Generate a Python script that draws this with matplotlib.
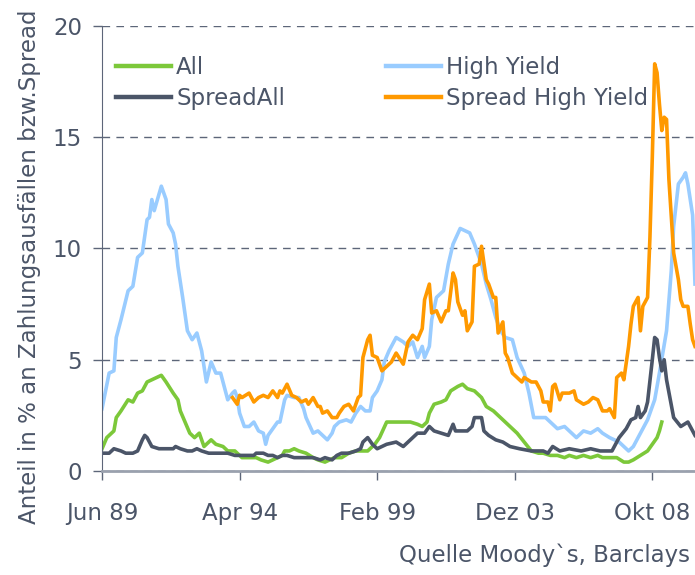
#!/usr/bin/env python
# Ausfallraten und Spreads, Moody's / Barclays, Jun 89 - 2010
import matplotlib
matplotlib.use('Agg')
import matplotlib.pyplot as plt

# months since Jun 1989, value in %
hy_m = [0, 3, 5, 6, 8, 11, 13, 15, 17, 19, 20, 21, 22, 25, 27, 28, 30, 31, 32,
        34, 36, 38, 40, 42, 44, 46, 48, 50, 51, 53, 55, 56, 57, 58, 60, 62, 64,
        66, 68, 69, 70, 72, 74, 75, 77, 78, 81, 83, 85, 86, 89, 91, 93, 95, 97,
        98, 100, 103, 105, 107, 109, 111, 113, 114, 116, 118, 119, 121, 124,
        127, 129, 131, 133, 135, 136, 138, 139, 141, 144, 146, 148, 151, 153,
        155, 157, 160, 162, 164, 166, 168, 170, 173, 175, 178, 180, 182, 185,
        187, 189, 192, 195, 197, 200, 203, 206, 209, 211, 214, 218, 220, 222,
        224, 226, 230, 233, 235, 238, 240, 241, 243, 245, 246, 247, 249, 250]
hy_v = [2.8, 4.4, 4.5, 6.0, 6.8, 8.1, 8.3, 9.6, 9.8, 11.3, 11.4, 12.2, 11.7,
        12.8, 12.2, 11.1, 10.7, 10.2, 9.2, 7.8, 6.3, 5.9, 6.2, 5.4, 4.0, 4.9,
        4.4, 4.4, 4.0, 3.2, 3.5, 3.6, 3.3, 2.6, 2.0, 2.0, 2.2, 1.8, 1.7, 1.2,
        1.6, 1.9, 2.2, 2.2, 3.2, 3.4, 3.3, 3.3, 2.8, 2.4, 1.7, 1.8, 1.6, 1.4,
        1.7, 2.0, 2.2, 2.3, 2.2, 2.6, 2.9, 2.7, 2.7, 3.3, 3.6, 4.1, 4.9, 5.4,
        6.0, 5.8, 5.6, 5.8, 5.1, 5.6, 5.1, 5.6, 6.8, 7.8, 8.1, 9.3, 10.2, 10.9,
        10.8, 10.7, 10.2, 9.3, 8.4, 7.7, 6.9, 6.3, 6.0, 5.9, 5.1, 4.4, 3.5, 2.4,
        2.4, 2.4, 2.2, 1.9, 2.0, 1.8, 1.5, 1.8, 1.7, 1.9, 1.7, 1.5, 1.3, 1.1,
        0.9, 1.1, 1.5, 2.3, 3.2, 4.4, 6.3, 9.0, 11.0, 12.9, 13.2, 13.4, 12.9,
        11.5, 8.4]

all_m = [0, 2, 5, 6, 8, 11, 13, 15, 17, 19, 21, 23, 25, 27, 30, 32, 33, 35, 37,
         39, 41, 43, 46, 48, 51, 53, 56, 59, 62, 65, 67, 70, 72, 74, 76, 77, 79,
         81, 83, 86, 89, 91, 94, 96, 98, 101, 104, 107, 110, 112, 115, 117, 120,
         122, 124, 127, 130, 133, 135, 137, 138, 140, 143, 145, 147, 150, 152,
         154, 157, 160, 162, 165, 168, 171, 172, 175, 178, 181, 184, 186, 189,
         192, 195, 197, 200, 203, 206, 209, 211, 214, 217, 220, 222, 224, 227,
         230, 232, 234, 235, 236]
all_v = [1.0, 1.5, 1.8, 2.4, 2.7, 3.2, 3.1, 3.5, 3.6, 4.0, 4.1, 4.2, 4.3, 4.0,
         3.5, 3.2, 2.7, 2.2, 1.7, 1.5, 1.7, 1.1, 1.4, 1.2, 1.1, 0.9, 0.9, 0.6,
         0.6, 0.6, 0.5, 0.4, 0.5, 0.6, 0.7, 0.9, 0.9, 1.0, 0.9, 0.8, 0.6, 0.5,
         0.4, 0.5, 0.6, 0.6, 0.8, 0.9, 0.9, 0.9, 1.2, 1.5, 2.2, 2.2, 2.2, 2.2,
         2.2, 2.1, 2.0, 2.2, 2.6, 3.0, 3.1, 3.2, 3.6, 3.8, 3.9, 3.7, 3.6, 3.3,
         2.9, 2.7, 2.4, 2.1, 2.0, 1.7, 1.3, 0.9, 0.8, 0.8, 0.7, 0.7, 0.6, 0.7,
         0.6, 0.7, 0.6, 0.7, 0.6, 0.6, 0.6, 0.4, 0.4, 0.5, 0.7, 0.9, 1.2, 1.5,
         1.8, 2.2]

sall_m = [0, 3, 5, 8, 10, 13, 15, 17, 18, 19, 21, 24, 27, 30, 31, 33, 36, 38,
          40, 42, 45, 48, 51, 53, 56, 59, 62, 64, 65, 68, 70, 72, 74, 76, 78,
          81, 84, 89, 92, 94, 97, 99, 101, 104, 107, 109, 110, 112, 114, 116,
          118, 120, 124, 127, 129, 131, 133, 136, 138, 140, 143, 146, 148, 149,
          152, 154, 156, 157, 160, 161, 163, 166, 169, 172, 176, 181, 186, 188,
          190, 193, 197, 202, 206, 210, 215, 218, 221, 223, 225, 226, 227, 229,
          230, 232, 233, 234, 235, 236, 237, 238, 241, 244, 247, 249, 250]
sall_v = [0.8, 0.8, 1.0, 0.9, 0.8, 0.8, 0.9, 1.4, 1.6, 1.5, 1.1, 1.0, 1.0, 1.0,
          1.1, 1.0, 0.9, 0.9, 1.0, 0.9, 0.8, 0.8, 0.8, 0.8, 0.7, 0.7, 0.7, 0.7,
          0.8, 0.8, 0.7, 0.7, 0.6, 0.7, 0.7, 0.6, 0.6, 0.6, 0.5, 0.6, 0.5, 0.7,
          0.8, 0.8, 0.9, 1.0, 1.3, 1.5, 1.2, 1.0, 1.1, 1.2, 1.3, 1.1, 1.3, 1.5,
          1.7, 1.7, 2.0, 1.8, 1.7, 1.6, 2.1, 1.8, 1.8, 1.8, 2.0, 2.4, 2.4, 1.8,
          1.6, 1.4, 1.3, 1.1, 1.0, 0.9, 0.9, 0.8, 1.1, 0.9, 1.0, 0.9, 1.0, 0.9,
          0.9, 1.5, 1.9, 2.3, 2.4, 2.9, 2.4, 2.7, 3.1, 5.0, 6.0, 5.9, 5.1, 4.5,
          5.0, 4.1, 2.4, 2.0, 2.2, 1.8, 1.6]

shy_m = [55, 57, 58, 59, 62, 64, 66, 68, 70, 72, 74, 75, 76, 78, 80, 82, 84, 86,
         87, 89, 91, 92, 93, 95, 97, 99, 100, 102, 104, 106, 108, 109, 110, 112,
         113, 114, 116, 118, 120, 122, 124, 127, 129, 131, 133, 135, 136, 138,
         139, 141, 143, 145, 146, 148, 149, 150, 152, 153, 154, 156, 157, 159,
         160, 162, 163, 165, 166, 167, 169, 170, 171, 173, 175, 177, 178, 181,
         183, 185, 186, 188, 189, 190, 191, 193, 194, 197, 199, 200, 203, 205,
         207, 209, 211, 213, 214, 216, 217, 219, 220, 222, 223, 224, 226, 227,
         228, 230, 231, 232, 233, 234, 235, 236, 237, 238, 239, 241, 243, 244,
         245, 247, 248, 249, 250]
shy_v = [3.3, 3.0, 3.4, 3.3, 3.5, 3.1, 3.3, 3.4, 3.3, 3.6, 3.3, 3.6, 3.5, 3.9,
         3.4, 3.3, 3.1, 3.2, 3.0, 3.3, 2.9, 2.9, 2.6, 2.7, 2.4, 2.4, 2.6, 2.9,
         3.0, 2.7, 3.3, 3.4, 5.1, 5.9, 6.1, 5.2, 5.1, 4.5, 4.7, 4.9, 5.3, 4.8,
         5.8, 6.1, 5.9, 6.4, 7.7, 8.4, 7.1, 7.2, 6.7, 7.2, 7.2, 8.9, 8.6, 7.6,
         7.0, 7.2, 6.3, 6.7, 9.2, 9.3, 10.1, 8.6, 8.4, 7.8, 7.8, 6.2, 6.7, 5.3,
         5.1, 4.4, 4.2, 4.0, 4.2, 4.0, 4.0, 3.6, 3.1, 3.1, 2.7, 3.8, 3.9, 3.2,
         3.5, 3.5, 3.6, 3.2, 3.0, 3.1, 3.3, 3.2, 2.7, 2.7, 2.8, 2.4, 4.2, 4.4,
         4.1, 5.6, 6.6, 7.4, 7.8, 6.3, 7.4, 7.8, 10.5, 14.1, 18.3, 17.9, 16.5,
         15.3, 15.9, 15.8, 13.1, 9.8, 8.6, 7.7, 7.4, 7.4, 6.6, 5.9, 5.6]

tick_pos = [0, 58, 116, 174, 232]
tick_labels = ['Jun 89', 'Apr 94', 'Feb 99', 'Dez 03', 'Okt 08']

TXT = '#4b5568'
GRID = '#5d6679'
FS = 16.5


def plot_chart():
    fig = plt.figure(figsize=(6.95, 5.75), dpi=100)
    ax = fig.add_axes([0.1468, 0.1809, 0.8532, 0.7739])
    lw = 2.6
    ax.plot(hy_m, hy_v, color='#99ccff', lw=lw, label='High Yield')
    ax.plot(all_m, all_v, color='#7cc83a', lw=lw, label='All')
    ax.plot(sall_m, sall_v, color='#4b5568', lw=lw, label='SpreadAll')
    ax.plot(shy_m, shy_v, color='#ff9900', lw=lw, label='Spread High Yield')

    ax.set_xlim(0, 250)
    ax.set_ylim(0, 20)
    ax.set_yticks([0, 5, 10, 15, 20])
    ax.set_xticks(tick_pos)
    ax.set_xticklabels(tick_labels)
    ax.tick_params(axis='x', length=6.5, width=1, color=GRID, pad=16,
                   labelsize=FS, labelcolor=TXT)
    ax.tick_params(axis='y', length=6.5, width=1, color=GRID, pad=8,
                   labelsize=FS, labelcolor=TXT)
    ax.grid(True, axis='y', color=GRID, lw=1, linestyle=(0, (5.5, 4.5)))
    ax.set_axisbelow(True)
    for s in ('top', 'right'):
        ax.spines[s].set_visible(False)
    ax.spines['left'].set_color(GRID)
    ax.spines['bottom'].set_color('#9aa1ae')
    ax.spines['bottom'].set_linewidth(2)

    h, l = ax.get_legend_handles_labels()
    order = [1, 2, 0, 3]
    leg = ax.legend([h[i] for i in order], [l[i] for i in order], ncol=2,
                    loc='upper left', bbox_to_anchor=(0.024, 0.932),
                    frameon=False, fontsize=FS, handlelength=2.4,
                    handletextpad=0.22, columnspacing=4.4, labelspacing=0.35,
                    borderaxespad=0, borderpad=0)
    for t in leg.get_texts():
        t.set_color(TXT)
    for ln in leg.get_lines():
        ln.set_linewidth(3.2)

    fig.text(0.043, 0.536, 'Anteil in % an Zahlungsausfällen bzw.Spread',
             rotation=90, ha='center', va='center', fontsize=FS, color=TXT)
    fig.text(0.993, 0.035, 'Quelle Moody`s, Barclays', ha='right',
             va='center', fontsize=FS, color=TXT)
    return fig


def main():
    fig = plot_chart()
    fig.savefig('out.png', dpi=100)


if __name__ == '__main__':
    main()
